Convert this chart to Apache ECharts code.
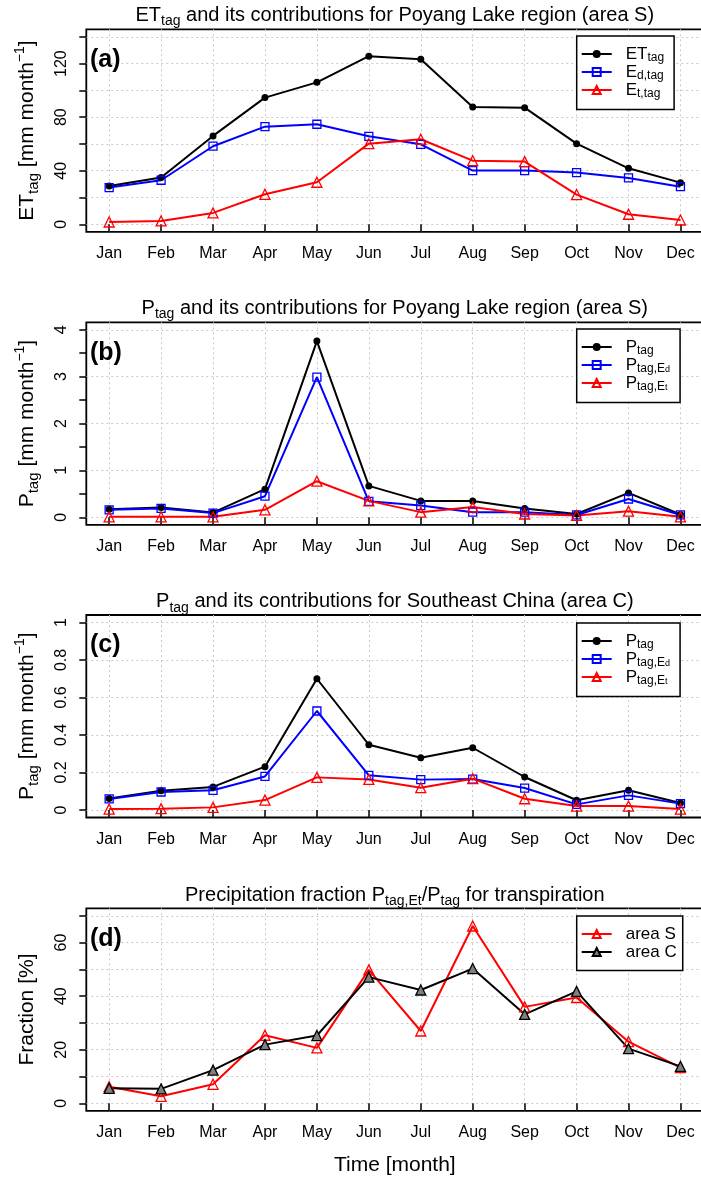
<!DOCTYPE html>
<html>
<head>
<meta charset="utf-8">
<script src="https://cdn.jsdelivr.net/npm/echarts@6/dist/echarts.min.js"></script>
<style>
  html, body { margin: 0; padding: 0; background: #fff; }
  #chart { width: 701px; height: 1180px; }
</style>
</head>
<body>
<div id="chart"></div>
<script>
// ---- data -------------------------------------------------------------
const months = ['Jan', 'Feb', 'Mar', 'Apr', 'May', 'Jun', 'Jul', 'Aug', 'Sep', 'Oct', 'Nov', 'Dec'];
const monthIndex = [1, 2, 3, 4, 5, 6, 7, 8, 9, 10, 11, 12];

// (a) tagged evapotranspiration, Poyang Lake region (area S) [mm/month]
const etTag  = [28.6, 34.9, 66.0, 94.6, 106.0, 125.5, 123.2, 87.6, 87.1, 60.2, 41.8, 31.1];
const edTag  = [27.4, 32.9, 58.3, 72.9, 74.7, 65.7, 59.7, 40.1, 40.1, 38.6, 34.6, 28.1];
const etrTag = [1.7, 2.5, 8.5, 22.4, 31.4, 60.2, 63.5, 47.5, 46.8, 22.2, 7.5, 3.2];

// (b) tagged precipitation, area S [mm/month]
const pTagS   = [0.17, 0.21, 0.10, 0.60, 3.76, 0.67, 0.35, 0.35, 0.19, 0.07, 0.52, 0.06];
const pTagEdS = [0.16, 0.19, 0.09, 0.45, 2.99, 0.34, 0.25, 0.11, 0.11, 0.05, 0.39, 0.05];
const pTagEtS = [0.01, 0.01, 0.01, 0.16, 0.77, 0.35, 0.11, 0.22, 0.07, 0.04, 0.13, 0.01];

// (c) tagged precipitation, Southeast China (area C) [mm/month]
const pTagC   = [0.062, 0.103, 0.123, 0.231, 0.700, 0.348, 0.279, 0.332, 0.176, 0.052, 0.105, 0.037];
const pTagEdC = [0.059, 0.096, 0.105, 0.179, 0.528, 0.185, 0.162, 0.165, 0.117, 0.030, 0.078, 0.034];
const pTagEtC = [0.005, 0.007, 0.014, 0.053, 0.174, 0.163, 0.119, 0.167, 0.060, 0.021, 0.021, 0.005];

// (d) transpiration share of tagged precipitation [%]
const fracS = [6.2, 2.6, 7.1, 25.4, 20.7, 49.8, 27.0, 66.2, 36.0, 39.5, 23.0, 13.3];
const fracC = [5.6, 5.4, 12.4, 21.9, 25.3, 47.1, 42.3, 50.3, 33.2, 41.8, 20.4, 13.8];

// tick values per panel
const ticksA  = [0, 20, 40, 60, 80, 100, 120, 140];
const labelsA = [0, 40, 80, 120];
const ticksB  = [0, 0.5, 1, 1.5, 2, 2.5, 3, 3.5, 4];
const labelsB = [0, 1, 2, 3, 4];
const ticksC  = [0, 0.2, 0.4, 0.6, 0.8, 1];
const ticksD  = [0, 10, 20, 30, 40, 50, 60, 70];
const labelsD = [0, 20, 40, 60];

// ---- layout & style ---------------------------------------------------
const FONT = "'Liberation Sans', Arial, Helvetica, sans-serif";
const PLOT_LEFT = 86.3, PLOT_W = 617, PLOT_H = 202.5;
const PLOT_TOPS = [29.3, 322.3, 615, 908.3];
const X_RANGE = [0.56, 12.44];
const Y_RANGES = [[-5.6, 145.6], [-0.16, 4.16], [-0.04, 1.04], [-2.8, 72.8]];
const GRID_LINE = { show: true, lineStyle: { color: '#c9c9c9', width: 1, type: [2, 3] } };
const TICK = { show: true, inside: false, length: 7, lineStyle: { color: '#000', width: 1.5 } };

const pair = vals => vals.map((v, i) => [monthIndex[i], v]);

const titleRich = {
  m: { fontSize: 20, lineHeight: 26, fontFamily: FONT, color: '#000' },
  s: { fontSize: 14, lineHeight: 9, verticalAlign: 'bottom', fontFamily: FONT, color: '#000' }
};
const nameRich = {
  m: { fontSize: 21, lineHeight: 28, fontFamily: FONT, color: '#000' },
  s: { fontSize: 15, lineHeight: 9, verticalAlign: 'bottom', fontFamily: FONT, color: '#000' },
  u: { fontSize: 14, lineHeight: 9, verticalAlign: 'top', fontFamily: FONT, color: '#000' }
};
const legendRich = {
  m: { fontSize: 17, lineHeight: 19, fontFamily: FONT, color: '#000' },
  s: { fontSize: 12, lineHeight: 7, verticalAlign: 'bottom', fontFamily: FONT, color: '#000' },
  ss: { fontSize: 9, lineHeight: 1, verticalAlign: 'bottom', fontFamily: FONT, color: '#000' }
};

const titles = [
  '{m|ET}{s|tag}{m| and its contributions for Poyang Lake region (area S)}',
  '{m|P}{s|tag}{m| and its contributions for Poyang Lake region (area S)}',
  '{m|P}{s|tag}{m| and its contributions for Southeast China (area C)}',
  '{m|Precipitation fraction P}{s|tag,Et}{m|/P}{s|tag}{m| for transpiration}'
];
const titleCenters = [15, 308, 601.7, 895];
const tags = ['(a)', '(b)', '(c)', '(d)'];
const yNames = [
  '{m|ET}{s|tag}{m| [mm month}{u|−1}{m|]}',
  '{m|P}{s|tag}{m| [mm month}{u|−1}{m|]}',
  '{m|P}{s|tag}{m| [mm month}{u|−1}{m|]}',
  '{m|Fraction [%]}'
];

const legendText = {
  et: '{m|ET}{s|tag}', ed: '{m|E}{s|d,tag}', etr: '{m|E}{s|t,tag}',
  pS: '{m|P}{s|tag}', pEdS: '{m|P}{s|tag,E}{ss|d}', pEtS: '{m|P}{s|tag,E}{ss|t}',
  pC: '{m|P}{s|tag}', pEdC: '{m|P}{s|tag,E}{ss|d}', pEtC: '{m|P}{s|tag,E}{ss|t}',
  fS: '{m|area S}', fC: '{m|area C}'
};

// marker styles
const blackDot = { symbol: 'circle', symbolSize: 7, itemStyle: { color: '#000' }, lineStyle: { color: '#000', width: 2 } };
const blueSquare = { symbol: 'rect', symbolSize: 8, itemStyle: { color: 'transparent', borderColor: '#0000ff', borderWidth: 1.3 }, lineStyle: { color: '#0000ff', width: 2 } };
const redTriangle = { symbol: 'triangle', symbolSize: 10, itemStyle: { color: 'transparent', borderColor: '#ff0000', borderWidth: 1.3 }, lineStyle: { color: '#ff0000', width: 2 } };
const greyTriangle = { symbol: 'triangle', symbolSize: 10, itemStyle: { color: '#808080', borderColor: '#000', borderWidth: 1.3 }, lineStyle: { color: '#000', width: 2 } };

function lineSeries(name, values, grid, yIdx, style) {
  return Object.assign({
    type: 'line', name: name, xAxisIndex: grid, yAxisIndex: yIdx,
    data: pair(values), showAllSymbol: true, animation: false,
    emphasis: { disabled: true }, z: 3
  }, JSON.parse(JSON.stringify(style)));
}

const grids = PLOT_TOPS.map(top => ({
  left: PLOT_LEFT, top: top, width: PLOT_W, height: PLOT_H,
  show: true, borderColor: '#000', borderWidth: 1.8, backgroundColor: 'transparent',
  containLabel: false, outerBoundsMode: 'none'
}));

const xAxes = PLOT_TOPS.map((_, g) => ({
  type: 'value', gridIndex: g, min: X_RANGE[0], max: X_RANGE[1],
  axisLine: { show: false },
  axisTick: Object.assign({ customValues: monthIndex }, TICK),
  axisLabel: { customValues: monthIndex, formatter: v => months[Math.round(v) - 1], fontSize: 16, fontFamily: FONT, color: '#000', margin: 14 },
  splitLine: GRID_LINE,
  name: g === 3 ? 'Time [month]' : '',
  nameLocation: 'middle', nameGap: 40,
  nameTextStyle: { fontSize: 21, fontFamily: FONT, color: '#000', lineHeight: 28 }
}));

const yTickSets = [ticksA, ticksB, ticksC, ticksD];
const yLabelSets = [labelsA, labelsB, ticksC, labelsD];
const yAxes = PLOT_TOPS.map((_, g) => ({
  type: 'value', gridIndex: g, min: Y_RANGES[g][0], max: Y_RANGES[g][1],
  axisLine: { show: false },
  axisTick: Object.assign({ customValues: yTickSets[g] }, TICK),
  axisLabel: { customValues: yLabelSets[g], rotate: 90, fontSize: 16, fontFamily: FONT, color: '#000', margin: 17 },
  splitLine: g === 1 ? { show: false } : GRID_LINE,
  name: yNames[g], nameLocation: 'middle', nameGap: 45,
  nameTextStyle: { rich: nameRich, fontSize: 21, fontFamily: FONT, color: '#000' }
}));
// helper axis carrying the whole-number grid lines of panel (b)
yAxes.push({
  type: 'value', gridIndex: 1, min: Y_RANGES[1][0], max: Y_RANGES[1][1],
  axisLine: { show: false }, axisLabel: { show: false },
  axisTick: { show: false, customValues: labelsB },
  splitLine: GRID_LINE
});

const series = [
  lineSeries('et', etTag, 0, 0, blackDot),
  lineSeries('ed', edTag, 0, 0, blueSquare),
  lineSeries('etr', etrTag, 0, 0, redTriangle),
  lineSeries('pS', pTagS, 1, 1, blackDot),
  lineSeries('pEdS', pTagEdS, 1, 1, blueSquare),
  lineSeries('pEtS', pTagEtS, 1, 1, redTriangle),
  lineSeries('pC', pTagC, 2, 2, blackDot),
  lineSeries('pEdC', pTagEdC, 2, 2, blueSquare),
  lineSeries('pEtC', pTagEtC, 2, 2, redTriangle),
  lineSeries('fS', fracS, 3, 3, redTriangle),
  lineSeries('fC', fracC, 3, 3, greyTriangle)
];

function legendBox(names, top, padRight, gap) {
  return {
    orient: 'vertical', left: 576.7, top: top,
    itemWidth: 30, itemHeight: 10, itemGap: gap,
    padding: [9.5, padRight, 10, 4],
    borderColor: '#000', borderWidth: 1.5, borderRadius: 0, backgroundColor: '#fff',
    selectedMode: false, data: names,
    formatter: n => legendText[n],
    textStyle: { fontSize: 17, fontFamily: FONT, color: '#000', padding: [0, 0, 0, 9], rich: legendRich }
  };
}

const option = {
  animation: false,
  backgroundColor: '#fff',
  title: [
    ...titles.map((t, i) => ({
      text: t, left: PLOT_LEFT + PLOT_W / 2, textAlign: 'center',
      top: titleCenters[i] - 13, padding: 0,
      textStyle: { rich: titleRich, fontSize: 20, fontFamily: FONT, color: '#000', fontWeight: 'normal' }
    })),
    ...tags.map((t, i) => ({
      text: t, left: 90, top: PLOT_TOPS[i] + 30.5 - 15, padding: 0,
      textStyle: { fontSize: 25, fontWeight: 'bold', fontFamily: FONT, color: '#000', lineHeight: 30 }
    }))
  ],
  legend: [
    legendBox(['et', 'ed', 'etr'], 36, 10, 0),
    legendBox(['pS', 'pEdS', 'pEtS'], 329, 10, 0),
    legendBox(['pC', 'pEdC', 'pEtC'], 623, 10, 0),
    legendBox(['fS', 'fC'], 916, 6, 1)
  ],
  grid: grids,
  xAxis: xAxes,
  yAxis: yAxes,
  series: series
};

const chart = echarts.init(document.getElementById('chart'), null, { renderer: 'canvas' });
chart.setOption(option);
</script>
</body>
</html>
